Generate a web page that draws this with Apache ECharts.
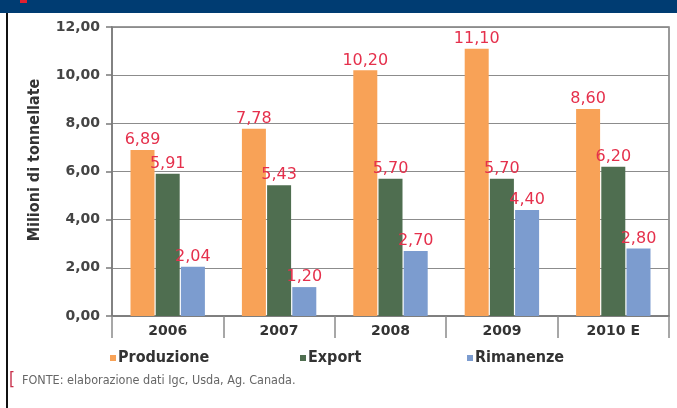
<!DOCTYPE html>
<html>
<head>
<meta charset="utf-8">
<script src="https://cdn.jsdelivr.net/npm/echarts@6/dist/echarts.min.js"></script>
<style>
  html, body { margin: 0; padding: 0; background: #ffffff; }
  #chart { width: 677px; height: 408px; }
</style>
</head>
<body>
<div id="chart"></div>
<script>
// Anni e valori (milioni di tonnellate)
const categories = ['2006', '2007', '2008', '2009', '2010 E'];
const produzione = [6.89, 7.78, 10.20, 11.10, 8.60];
const exportVals = [5.91, 5.43, 5.70, 5.70, 6.20];
const rimanenze = [2.04, 1.20, 2.70, 4.40, 2.80];
const seriesNames = ['Produzione', 'Export', 'Rimanenze'];
const yTicks = { min: 0, max: 12, interval: 2 };

const colors = ['#f8a257', '#4f6e50', '#7c9ccf'];
const fmt = v => v.toFixed(2).replace('.', ',');

const chart = echarts.init(document.getElementById('chart'));

const labelStyle = {
  show: true,
  position: 'top',
  distance: 2,
  color: '#e5304c',
  fontFamily: 'DejaVu Sans',
  fontSize: 16,
  formatter: p => fmt(p.value)
};

function legendAt(name, left) {
  return {
    data: [name],
    left: left,
    top: 350,
    icon: 'rect',
    itemWidth: 6,
    itemHeight: 6,
    itemGap: 0,
    padding: 0,
    textStyle: {
      color: '#333333',
      fontFamily: 'DejaVu Sans Condensed',
      fontWeight: 'bold',
      fontSize: 16,
      padding: [0, 0, 0, -3]
    }
  };
}

chart.setOption({
  animation: false,
  color: colors,
  legend: [
    legendAt(seriesNames[0], 110),
    legendAt(seriesNames[1], 300),
    legendAt(seriesNames[2], 467)
  ],
  grid: {
    left: 112,
    right: 8,
    top: 27,
    bottom: 92,
    show: true,
    borderColor: '#7a7a7a',
    borderWidth: 1.5,
    containLabel: false
  },
  xAxis: {
    type: 'category',
    data: categories,
    axisLine: { show: true, lineStyle: { color: '#7a7a7a', width: 1.5 } },
    axisTick: { show: true, length: 22, alignWithLabel: false, lineStyle: { color: '#8a8a8a', width: 1.5 } },
    axisLabel: {
      margin: 8,
      color: '#333333',
      fontFamily: 'DejaVu Sans',
      fontWeight: 'bold',
      fontSize: 14
    }
  },
  yAxis: {
    type: 'value',
    min: yTicks.min,
    max: yTicks.max,
    interval: yTicks.interval,
    axisLine: { show: true, lineStyle: { color: '#7a7a7a', width: 1.5 } },
    axisTick: { show: true, length: 6, lineStyle: { color: '#7a7a7a', width: 1.5 } },
    splitLine: { show: true, lineStyle: { color: '#8c8c8c', width: 1.2 } },
    axisLabel: {
      margin: 12,
      color: '#444444',
      fontFamily: 'DejaVu Sans',
      fontWeight: 'bold',
      fontSize: 14,
      formatter: v => fmt(v)
    }
  },
  series: [
    { name: seriesNames[0], type: 'bar', data: produzione, barWidth: 24, barGap: '5%', label: labelStyle },
    { name: seriesNames[1], type: 'bar', data: exportVals, barWidth: 24, barGap: '5%', label: labelStyle },
    { name: seriesNames[2], type: 'bar', data: rimanenze, barWidth: 24, barGap: '5%', label: labelStyle }
  ],
  graphic: [
    { type: 'rect', shape: { x: 0, y: 0, width: 677, height: 13 }, style: { fill: '#003c72' } },
    { type: 'rect', shape: { x: 20, y: 0, width: 7, height: 3 }, style: { fill: '#e02030' } },
    { type: 'rect', shape: { x: 6, y: 13, width: 2, height: 395 }, style: { fill: '#111111' } },
    {
      type: 'text',
      x: 35, y: 160,
      rotation: Math.PI / 2,
      style: {
        text: 'Milioni di tonnellate',
        fill: '#333333',
        font: 'bold 16px "DejaVu Sans Condensed"',
        textAlign: 'center',
        textVerticalAlign: 'middle'
      }
    },
    {
      type: 'text',
      x: 9, y: 381,
      style: {
        text: '[',
        fill: '#c8304a',
        font: '17px "DejaVu Sans Condensed"',
        textAlign: 'left',
        textVerticalAlign: 'middle'
      }
    },
    {
      type: 'text',
      x: 22, y: 381,
      style: {
        text: 'FONTE: elaborazione dati Igc, Usda, Ag. Canada.',
        fill: '#666666',
        font: '12.5px "DejaVu Sans Condensed"',
        textAlign: 'left',
        textVerticalAlign: 'middle'
      }
    }
  ]
});
</script>
</body>
</html>
